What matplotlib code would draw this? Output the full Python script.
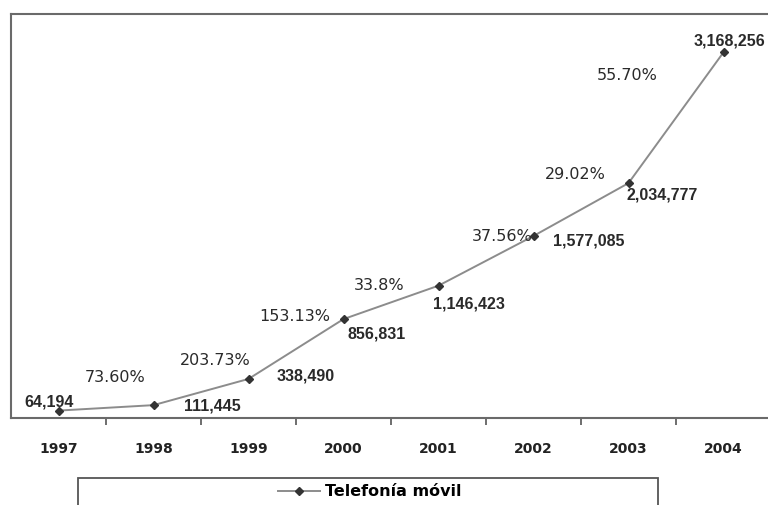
import matplotlib.pyplot as plt
from matplotlib.patches import Rectangle
import numpy as np

years = ['1997', '1998', '1999', '2000', '2001', '2002', '2003', '2004']
lines = [64194, 111445, 338490, 856831, 1146423, 1577085, 2034777, 3168256]
value_labels = ['64,194', '111,445', '338,490', '856,831', '1,146,423',
                '1,577,085', '2,034,777', '3,168,256']
growth_labels = ['73.60%', '203.73%', '153.13%', '33.8%', '37.56%',
                 '29.02%', '55.70%']  # growth into years 1998..2004

# label offsets in pixels from each point (layout only)
value_off = [(-9, 9), (59, -1), (57, 3), (33, -15), (30, -18),
             (55, -5), (34, -12), (6, 11)]
growth_off = [(-38, 28), (-33, 18), (-49, 3), (-59, 0), (-31, -1),
              (-53, 9), (-96, -23)]

fig = plt.figure(figsize=(7.68, 5.05), dpi=100)
ax = fig.add_axes([11/768, 87/505, 760/768, 404/505])

x = np.arange(len(years))
ax.plot(x, lines, color='#8c8c8c', lw=1.4, marker='D', ms=4.5,
        mfc='#333333', mec='#333333', label='Telefonía móvil', zorder=3)

for i, lab in enumerate(value_labels):
    ax.annotate(lab, (x[i], lines[i]), xytext=value_off[i], textcoords='offset pixels',
                ha='center', va='center', fontsize=11.5, fontweight='bold',
                family='Liberation Sans', color='#2a2a2a', annotation_clip=False)

for i, lab in enumerate(growth_labels):
    ax.annotate(lab, (x[i+1], lines[i+1]), xytext=growth_off[i], textcoords='offset pixels',
                ha='center', va='center', fontsize=11.5, family='DejaVu Sans',
                color='#2a2a2a', annotation_clip=False)

ax.set_xlim(-0.5, 7.5)
ax.set_ylim(0, 3500000)
ax.set_yticks([])
ax.set_xticks(x)
ax.set_xticklabels(years, fontsize=10, fontweight='bold', color='#222222')
ax.set_xticks(x[:-1] + 0.5, minor=True)
ax.tick_params(axis='x', which='major', length=0, pad=17)
ax.tick_params(axis='x', which='minor', length=5, width=1.2, color='#555555', direction='out')
for s in ['top', 'left', 'bottom']:
    ax.spines[s].set_color('#6a6a6a')
    ax.spines[s].set_linewidth(1.5)
ax.spines['right'].set_visible(False)

# legend box cut off at bottom of figure
fig.patches.append(Rectangle((78/768, -0.02), 580/768, (505-478)/505 + 0.02,
                             transform=fig.transFigure, fill=False,
                             edgecolor='#555555', lw=1.3))
leg = fig.legend(loc='center', bbox_to_anchor=(370/768, 1 - 492/505), frameon=False,
                 prop={'family': 'DejaVu Sans', 'weight': 'bold', 'size': 11.5},
                 handlelength=2.6, handletextpad=0.35)

fig.savefig('out.png', dpi=100)
